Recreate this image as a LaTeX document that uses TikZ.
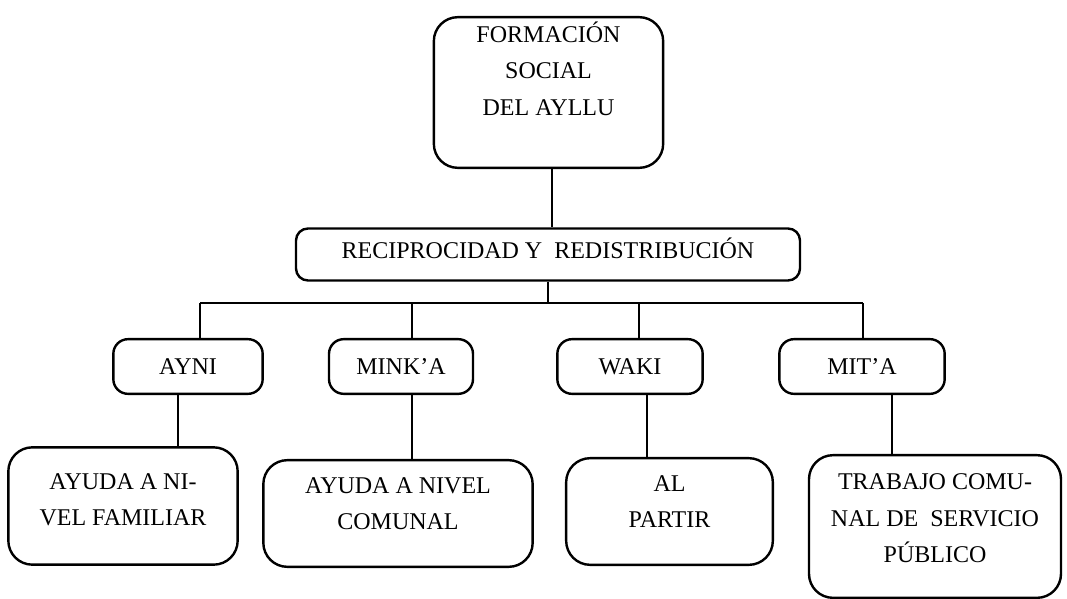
\documentclass[tikz,border=0pt]{standalone}
\usepackage{fontspec}
\setmainfont{Liberation Serif}
\usetikzlibrary{calc}
\tikzset{
  bx/.style={draw, line width=1.8pt, align=center, inner sep=2pt, font=\fontsize{18}{27.5}\selectfont},
  hd/.style={bx, rounded corners=18pt},
  rb/.style={bx, rounded corners=9pt},
  tg/.style={bx, rounded corners=11pt, minimum height=41pt},
  lf/.style={bx, rounded corners=18pt},
  ln/.style={line width=1.4pt},
}
\begin{document}
\begin{tikzpicture}[x=0.75pt, y=-0.75pt]
  \useasboundingbox (0,0) rectangle (1067,599);
  \node[hd, minimum width=172pt, minimum height=113pt, text depth=36pt] (ayllu) at (548.5,92.5) {FORMACIÓN\\SOCIAL\\DEL AYLLU};
  \node[rb, minimum width=378pt, minimum height=39pt, text depth=9.4pt] (recip) at (548,254.5) {RECIPROCIDAD Y \ REDISTRIBUCIÓN};
  \node[tg, minimum width=112pt] (ayni) at (188,366.5) {AYNI};
  \node[tg, minimum width=108pt] (minka) at (401,366.5) {MINK’A};
  \node[tg, minimum width=109pt] (waki) at (630,366.5) {WAKI};
  \node[tg, minimum width=124pt] (mita) at (862,366.5) {MIT’A};
  \node[lf, minimum width=172pt, minimum height=88pt, text depth=9.5pt] (famil) at (123,506) {AYUDA A NI-\\VEL FAMILIAR};
  \node[lf, minimum width=202pt, minimum height=80pt, text depth=14.7pt] (comun) at (398,513.5) {AYUDA A NIVEL\\COMUNAL};
  \node[lf, minimum width=155pt, minimum height=80pt, text depth=14.7pt] (partir) at (669.5,511.5) {AL\\PARTIR};
  \node[lf, minimum width=189pt, minimum height=107pt, text depth=12.2pt] (trab) at (935,526.5) {TRABAJO COMU-\\NAL DE \ SERVICIO\\PÚBLICO};
  \coordinate (j1) at (200,303);
  \coordinate (j2) at (412,303);
  \coordinate (j3) at (639,303);
  \coordinate (j4) at (863,303);
  \draw[ln] ([xshift=2.5pt]ayllu.south) -- ([xshift=2.5pt]ayllu.south |- recip.north);
  \draw[ln] (recip.south) -- (recip.south |- j1);
  \draw[ln] (j1) -- (j4);
  \foreach \j/\n in {j1/ayni, j2/minka, j3/waki, j4/mita}
    \draw[ln] (\j) -- (\j |- \n.north);
  \foreach \n/\m/\dx in {ayni/famil/-7.5pt, minka/comun/8.25pt, waki/partir/12.75pt, mita/trab/22.5pt}
    \draw[ln] ([xshift=\dx]\n.south) -- ([xshift=\dx]\n.south |- \m.north);
\end{tikzpicture}
\end{document}
